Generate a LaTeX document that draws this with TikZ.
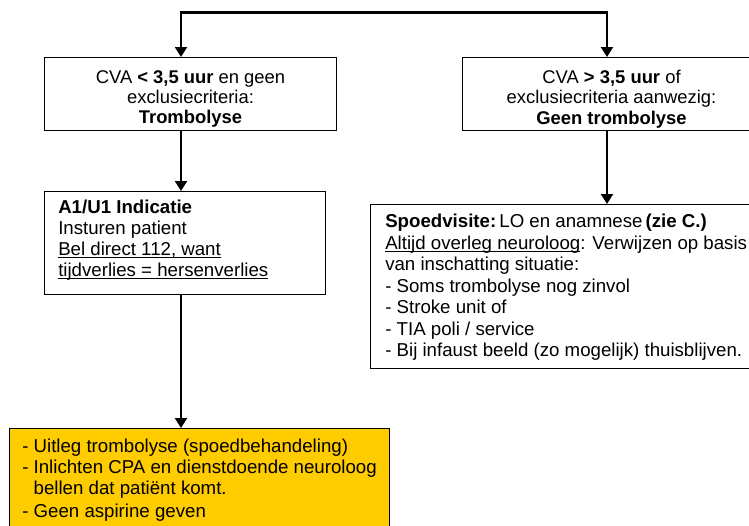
\documentclass[tikz,border=0pt]{standalone}
\usepackage{fontspec}
\setmainfont{Liberation Sans}
\usetikzlibrary{arrows.meta}
\definecolor{yellowc}{HTML}{FFCC00}
\newsavebox{\ulbox}
\newcommand{\myul}[1]{\sbox{\ulbox}{#1}\rlap{\rule[-2.1pt]{\wd\ulbox}{0.9pt}}\usebox{\ulbox}}
\begin{document}
\begin{tikzpicture}[x=0.75pt,y=-0.75pt,
  box/.style={draw=black, line width=0.9pt, rectangle, inner sep=0pt, anchor=north west},
  txttop/.style={inner sep=0pt, font=\fontsize{13.8pt}{15.3pt}\selectfont},
  txt/.style={inner sep=0pt, font=\fontsize{14pt}{15.7pt}\selectfont},
  txtwide/.style={inner sep=0pt, font=\fontsize{14pt}{16.1pt}\selectfont},
  conn/.style={line width=1.6pt},
  arr/.style={conn, -{Triangle[width=9pt,length=7.5pt]}}]
\useasboundingbox (0,0) rectangle (749,525);
\clip (0,0) rectangle (749,525);
\fill[white] (0,0) rectangle (749,525);
% boxes
\node[box, minimum width=219pt, minimum height=54.75pt] (b1) at (44,57) {};
\node[box, minimum width=224.25pt, minimum height=54.75pt] (b2) at (462,57) {};
\node[box, minimum width=210.75pt, minimum height=77.25pt] (a1) at (44,191) {};
\node[box, minimum width=292.5pt, minimum height=123pt] (sp) at (370,204) {};
\node[box, fill=yellowc, minimum width=285pt, minimum height=78pt] (ye) at (9,428) {};
% texts
\node[txttop, anchor=north, align=center] (t1) at (190.5,70)
  {CVA \textbf{< 3,5 uur} en geen\\exclusiecriteria:\\\textbf{Trombolyse}};
\node[txttop, anchor=north, align=center] (t2) at (611.5,70)
  {CVA \textbf{> 3,5 uur} of\\exclusiecriteria aanwezig:\\\textbf{Geen trombolyse}};
\node[txt, anchor=north west, align=left] (t3) at (58,200)
  {\textbf{A1/U1 Indicatie}\\Insturen patient\\\myul{Bel direct 112, want}\\\myul{tijdverlies = hersenverlies}};
\node[txtwide, anchor=north west, align=left] (t4) at (385,214)
  {\textbf{Spoedvisite:}\,LO en anamnese\,\textbf{(zie C.)}\\
   \myul{Altijd overleg neuroloog}: Verwijzen op basis\\
   van inschatting situatie:\\
   - Soms trombolyse nog zinvol\\
   - Stroke unit of\\
   - TIA poli / service\\
   - Bij infaust beeld (zo mogelijk) thuisblijven.};
\node[txt, anchor=north west, align=left] (t5) at (22,439)
  {- Uitleg trombolyse (spoedbehandeling)\\
   - Inlichten CPA en dienstdoende neuroloog\\
   \phantom{- }bellen dat patiënt komt.\\[1.5pt]
   - Geen aspirine geven};
% connectors
\coordinate (cl) at (181,12.5);
\coordinate (cr) at (607,12.5);
\draw[arr] (cr) -- (cl) -- (cl |- b1.north);
\draw[arr] (cl) -- (cr) -- (cr |- b2.north);
\draw[arr] (cl |- b1.south) -- (cl |- a1.north);
\draw[arr] (cl |- a1.south) -- (cl |- ye.north);
\draw[arr] (cr |- b2.south) -- (cr |- sp.north);
\end{tikzpicture}
\end{document}
